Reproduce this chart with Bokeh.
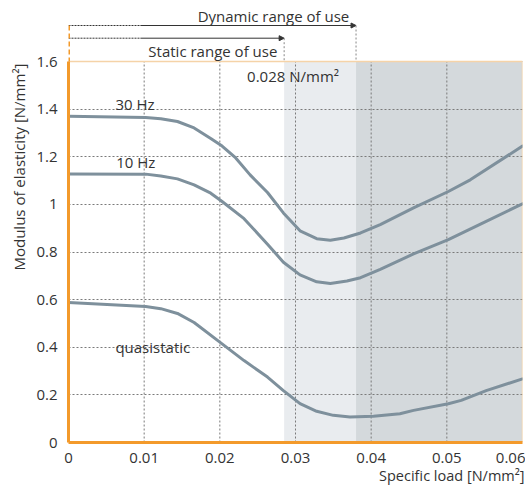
from bokeh.plotting import figure
from bokeh.models import FixedTicker, Label, Arrow, NormalHead, Range1d, Title
from bokeh.embed import file_html
from bokeh.resources import INLINE

# ---- data ----
x_30hz = [0, 0.0102, 0.0122, 0.0144, 0.0166, 0.0188, 0.0203, 0.0221, 0.0240, 0.0263,
          0.0284, 0.0306, 0.0328, 0.0346, 0.0364, 0.0386, 0.0412, 0.0456, 0.0502,
          0.0531, 0.06]
y_30hz = [1.370, 1.365, 1.360, 1.348, 1.321, 1.277, 1.245, 1.195, 1.124, 1.050,
          0.964, 0.889, 0.856, 0.849, 0.859, 0.880, 0.915, 0.985, 1.054,
          1.103, 1.245]

x_10hz = [0, 0.0102, 0.0122, 0.0144, 0.0166, 0.0188, 0.0203, 0.0232, 0.0263, 0.0284,
          0.0306, 0.0328, 0.0346, 0.0368, 0.0386, 0.0412, 0.0456, 0.0502, 0.0552, 0.06]
y_10hz = [1.128, 1.127, 1.119, 1.107, 1.082, 1.047, 1.012, 0.940, 0.833, 0.757,
          0.704, 0.675, 0.668, 0.678, 0.692, 0.727, 0.792, 0.852, 0.929, 1.0025]

x_quasi = [0, 0.0102, 0.0122, 0.0144, 0.0166, 0.0203, 0.0232, 0.0263, 0.0284, 0.0306,
           0.0328, 0.0350, 0.0372, 0.0403, 0.0438, 0.0456, 0.0502, 0.0519, 0.0552, 0.06]
y_quasi = [0.588, 0.571, 0.562, 0.542, 0.504, 0.414, 0.344, 0.275, 0.218, 0.163,
           0.131, 0.114, 0.107, 0.110, 0.121, 0.135, 0.163, 0.177, 0.218, 0.267]

series_names = ["30 Hz", "10 Hz", "quasistatic"]

static_limit = 0.0285
dynamic_limit = 0.038

x_ticks = [0, 0.01, 0.02, 0.03, 0.04, 0.05, 0.06]
x_tick_labels = ["0", "0.01", "0.02", "0.03", "0.04", "0.05", "0.06"]
y_ticks = [0, 0.2, 0.4, 0.6, 0.8, 1.0, 1.2, 1.4, 1.6]
y_tick_labels = ["0", "0.2", "0.4", "0.6", "0.8", "1", "1.2", "1.4", "1.6"]

X_MAX = 0.06
Y_MAX = 1.6

# ---- layout ----
FONT = "Open Sans"
FS = "15px"
TXT = "#333333"
CURVE = "#7e909c"
ORANGE = "#f39a2b"
BORDER = "#f5d3a8"
GRID = "#7a7a7a"

W, H = 525, 488
BL, BR, BB = 68, 3, 46
TOP_PX = 61                      # canvas px where y = 1.6 sits
frame_h = H - BB
scale = (frame_h - TOP_PX) / Y_MAX
Y_TOP = Y_MAX + TOP_PX / scale


def yy(px):
    """data y for a canvas pixel row (measured from the top)"""
    return Y_TOP - px / scale


p = figure(width=W, height=H, output_backend="svg", toolbar_location=None,
           x_range=Range1d(0, X_MAX), y_range=Range1d(0, Y_TOP),
           min_border_left=BL, min_border_right=BR, min_border_top=0,
           min_border_bottom=BB)
p.background_fill_color = "white"
p.border_fill_color = "white"
p.outline_line_color = None

# shaded ranges
p.quad(left=[static_limit], right=[dynamic_limit], bottom=[0], top=[Y_MAX],
       fill_color="#e9ecef", line_color=None, level="image")
p.quad(left=[dynamic_limit], right=[X_MAX], bottom=[0], top=[Y_MAX],
       fill_color="#d4d9dc", line_color=None, level="image")

# axes
p.xaxis.ticker = FixedTicker(ticks=x_ticks)
p.yaxis.ticker = FixedTicker(ticks=y_ticks)
p.yaxis.bounds = (0, Y_MAX)
p.xaxis.major_label_overrides = {t: l for t, l in zip(x_ticks, x_tick_labels)}
p.yaxis.major_label_overrides = {t: l for t, l in zip(y_ticks, y_tick_labels)}
for ax in (p.xaxis, p.yaxis):
    ax.axis_line_color = ORANGE
    ax.axis_line_width = 3
    ax.major_tick_line_color = None
    ax.minor_tick_line_color = None
    ax.major_label_text_font = FONT
    ax.major_label_text_font_size = FS
    ax.major_label_text_color = TXT
p.xaxis.major_label_standoff = 4
p.yaxis.major_label_standoff = 5

# x axis title, right aligned: centred on the axis and padded on the left
# with no-break spaces so that its visible text ends at the right edge
xlabel = "Specific load [N/mm²]"
p.xaxis.axis_label = "\u00a0" * 83 + xlabel
p.xaxis.axis_label_standoff = 0
p.xaxis.axis_label_text_font = FONT
p.xaxis.axis_label_text_font_size = "14.5px"
p.xaxis.axis_label_text_font_style = "normal"
p.xaxis.axis_label_text_color = TXT

p.add_layout(Title(text="Modulus of elasticity [N/mm²]", align="right", text_font=FONT,
                   text_font_size=FS, text_font_style="normal", text_color=TXT,
                   standoff=10, offset=TOP_PX + 2), "left")

# grid: horizontal from the axis, vertical drawn only inside the chart box
p.xgrid.visible = False
p.ygrid.grid_line_color = GRID
p.ygrid.grid_line_dash = "2 2"
p.ygrid.grid_line_width = 1
gx = x_ticks[1:-1]
p.segment(x0=gx, y0=[0] * len(gx), x1=gx, y1=[Y_MAX] * len(gx),
          line_color=GRID, line_dash="2 2", line_width=1)

# light orange frame (top and right)
p.line([0, X_MAX, X_MAX], [Y_MAX, Y_MAX, 0], line_color=BORDER, line_width=1.5)

# curves
for xs, ys in ((x_30hz, y_30hz), (x_10hz, y_10hz), (x_quasi, y_quasi)):
    p.line(xs, ys, line_color=CURVE, line_width=3, line_join="round", line_cap="round")


def add_label(x, y, text, align="left"):
    p.add_layout(Label(x=x, y=y, text=text, text_align=align, text_baseline="middle",
                       text_font=FONT, text_font_size=FS, text_color=TXT))


add_label(0.0062, 1.423, series_names[0])
add_label(0.0063, 1.180, series_names[1])
add_label(0.0062, 0.400, series_names[2])
add_label(0.0236, yy(75), "0.028 N/mm²")

# range arrows above the chart box
split = 0.0095
for py, xe in ((25, dynamic_limit), (37.7, static_limit)):
    y0 = yy(py)
    p.add_layout(Arrow(end=None, x_start=0, y_start=y0, x_end=split, y_end=y0,
                       line_color=TXT, line_width=1, line_dash="2 1"))
    p.add_layout(Arrow(end=NormalHead(size=5, fill_color=TXT, line_color=TXT),
                       x_start=split, y_start=y0, x_end=xe, y_end=y0,
                       line_color=TXT, line_width=1))
    p.add_layout(Arrow(end=None, x_start=xe, y_start=y0, x_end=xe, y_end=Y_MAX,
                       line_color="#888888", line_width=1, line_dash="2 2"))
p.add_layout(Arrow(end=None, x_start=0, y_start=yy(25), x_end=0, y_end=Y_MAX,
                   line_color=ORANGE, line_width=3, line_dash="5 3"))

add_label(dynamic_limit - 0.0009, yy(15), "Dynamic range of use", align="right")
add_label(static_limit - 0.0009, yy(50), "Static range of use", align="right")

open("out.html", "w").write(file_html(p, INLINE))
